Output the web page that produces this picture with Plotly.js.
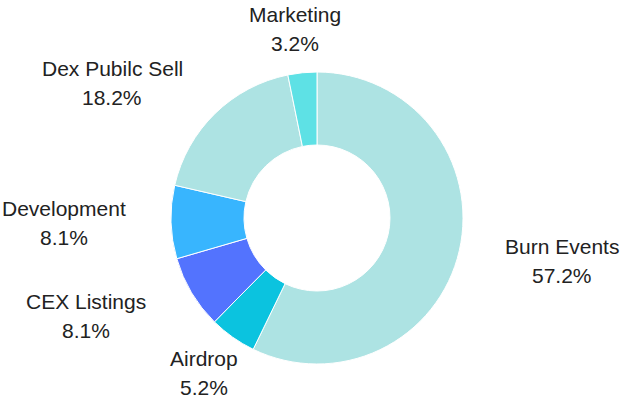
<!DOCTYPE html>
<html>
<head>
<meta charset="utf-8">
<script src="https://cdn.plot.ly/plotly-3.0.1.min.js"></script>
<style>html,body{margin:0;padding:0;background:#fff;}#chart{width:620px;height:402px;}</style>
</head>
<body>
<div id="chart"></div>
<script>
// Data
var labels = ["Burn Events", "Airdrop", "CEX Listings", "Development", "Dex Pubilc Sell", "Marketing"];
var values = [57.2, 5.2, 8.1, 8.1, 18.2, 3.2];
var colors = ["#ade3e3", "#0bc3df", "#5373fe", "#38b5fe", "#ade3e3", "#5ee1e5"];

// Layout: label positions in page pixels (center x, first-line baseline y)
var W = 620, H = 402;
var labelPos = [[562, 254], [204, 366], [86, 309], [64, 216], [112, 76], [295, 22]];
var lineGap = 29;
var fontSize = 21;
var fontFamily = "Liberation Sans, Helvetica, Arial, sans-serif";

var cx = 317, cy = 218, R = 146;

var annotations = [];
labels.forEach(function (lab, i) {
  var p = labelPos[i];
  var lines = [lab, values[i].toFixed(1) + "%"];
  lines.forEach(function (t, k) {
    var base = p[1] + k * lineGap;
    annotations.push({
      text: t,
      xref: "paper", yref: "paper",
      x: p[0] / W,
      y: 1 - (base - fontSize * 0.36) / H,
      xanchor: "center", yanchor: "middle",
      showarrow: false,
      font: { family: fontFamily, size: fontSize, color: "#222222" }
    });
  });
});

var trace = {
  type: "pie",
  labels: labels,
  values: values,
  hole: 0.5,
  sort: false,
  direction: "clockwise",
  rotation: 0,
  textinfo: "none",
  hoverinfo: "label+percent",
  showlegend: false,
  marker: { colors: colors, line: { color: "#ffffff", width: 1 } },
  domain: {
    x: [(cx - R) / W, (cx + R) / W],
    y: [1 - (cy + R) / H, 1 - (cy - R) / H]
  }
};

var layout = {
  width: W, height: H,
  margin: { l: 0, r: 0, t: 0, b: 0 },
  paper_bgcolor: "#ffffff",
  plot_bgcolor: "#ffffff",
  showlegend: false,
  annotations: annotations
};

Plotly.newPlot("chart", [trace], layout, { displayModeBar: false, staticPlot: true });
</script>
</body>
</html>
